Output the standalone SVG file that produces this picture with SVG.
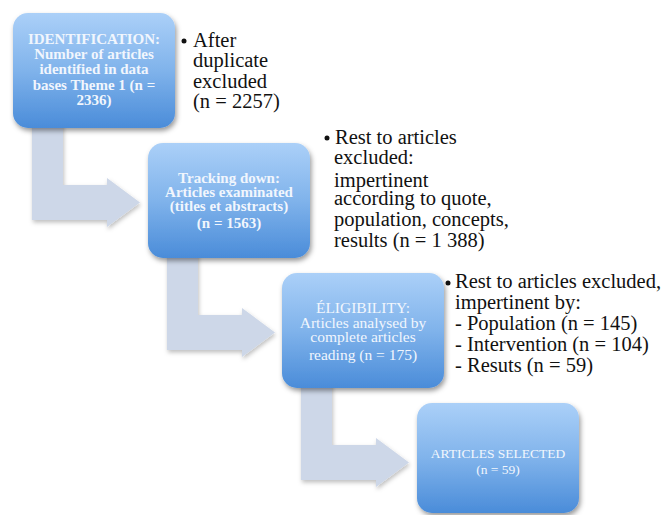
<svg xmlns="http://www.w3.org/2000/svg" width="662" height="515" viewBox="0 0 662 515">
<defs>
<linearGradient id="boxGrad" x1="0" y1="0" x2="0" y2="1">
<stop offset="0" stop-color="#abd0f8"/>
<stop offset="0.5" stop-color="#80b3eb"/>
<stop offset="1" stop-color="#4a8cd9"/>
</linearGradient>
<filter id="shadow" x="-20%" y="-20%" width="140%" height="150%">
<feDropShadow dx="1.5" dy="3" stdDeviation="2.5" flood-color="#000" flood-opacity="0.4"/>
</filter>
<filter id="ashadow" x="-20%" y="-20%" width="140%" height="150%">
<feDropShadow dx="1" dy="2.5" stdDeviation="2" flood-color="#000" flood-opacity="0.25"/>
</filter>
</defs>
<style>
.box{fill:url(#boxGrad);filter:url(#shadow);}
.arrow{fill:#cdd7e8;filter:url(#ashadow);}
.bt{font-family:"Liberation Serif","Times New Roman",serif;fill:#f1f6fd;text-anchor:middle;}
.b1{font-size:15px;font-weight:bold;}
.b3{font-size:15.5px;}
.b4{font-size:13.5px;}
.note{font-family:"Liberation Serif","Times New Roman",serif;font-size:20.5px;fill:#111;}
.dot{fill:#111;}
</style>
<rect width="662" height="515" fill="#ffffff"/>
<g id="connectors">
<path class="arrow" d="M32,120 L63,120 L63,185 L107,185 L107,178 L140,202.5 L107,227 L107,220 L32,220 Z"/>
<path class="arrow" d="M167,250 L198,250 L198,315 L242,315 L242,308 L275,332.5 L242,357 L242,350 L167,350 Z"/>
<path class="arrow" d="M301,380 L332,380 L332,445 L376,445 L376,438 L409,462.5 L376,487 L376,480 L301,480 Z"/>
</g>
<g id="identification">
<rect class="box" x="13" y="13" width="162" height="115" rx="15"/>
<text class="bt b1" x="94" y="44">IDENTIFICATION:</text>
<text class="bt b1" x="94" y="59">Number of articles</text>
<text class="bt b1" x="94" y="74">identified in data</text>
<text class="bt b1" x="94" y="90">bases Theme 1 (n =</text>
<text class="bt b1" x="94" y="105">2336)</text>
</g>
<g id="tracking">
<rect class="box" x="148" y="143" width="162" height="115" rx="15"/>
<text class="bt b1" x="229" y="183">Tracking down:</text>
<text class="bt b1" x="229" y="197">Articles examinated</text>
<text class="bt b1" x="229" y="211">(titles et abstracts)</text>
<text class="bt b1" x="229" y="228">(n = 1563)</text>
</g>
<g id="eligibility">
<rect class="box" x="282" y="273" width="162" height="115" rx="15"/>
<text class="bt b3" x="363" y="313">ÉLIGIBILITY:</text>
<text class="bt b3" x="363" y="328">Articles analysed by</text>
<text class="bt b3" x="363" y="342">complete articles</text>
<text class="bt b3" x="363" y="360">reading (n = 175)</text>
</g>
<g id="selected">
<rect class="box" x="417" y="403" width="162" height="110" rx="15"/>
<text class="bt b4" x="498" y="458">ARTICLES SELECTED</text>
<text class="bt b4" x="498" y="474">(n = 59)</text>
</g>
<g id="note1">
<circle class="dot" cx="184" cy="41" r="2.5"/>
<text class="note" x="193" y="47">After</text>
<text class="note" x="193" y="67">duplicate</text>
<text class="note" x="193" y="88">excluded</text>
<text class="note" x="193" y="108">(n = 2257)</text>
</g>
<g id="note2">
<circle class="dot" cx="327" cy="138" r="2.5"/>
<text class="note" x="335" y="144">Rest to articles</text>
<text class="note" x="334" y="164">excluded:</text>
<text class="note" x="334" y="187">impertinent</text>
<text class="note" x="334" y="205">according to quote,</text>
<text class="note" x="334" y="226">population, concepts,</text>
<text class="note" x="334" y="247">results (n = 1 388)</text>
</g>
<g id="note3">
<circle class="dot" cx="448" cy="283" r="2.5"/>
<text class="note" x="455" y="288">Rest to articles excluded,</text>
<text class="note" x="455" y="309">impertinent by:</text>
<text class="note" x="455" y="330">- Population (n = 145)</text>
<text class="note" x="455" y="351">- Intervention (n = 104)</text>
<text class="note" x="455" y="372">- Resuts (n = 59)</text>
</g>
</svg>
